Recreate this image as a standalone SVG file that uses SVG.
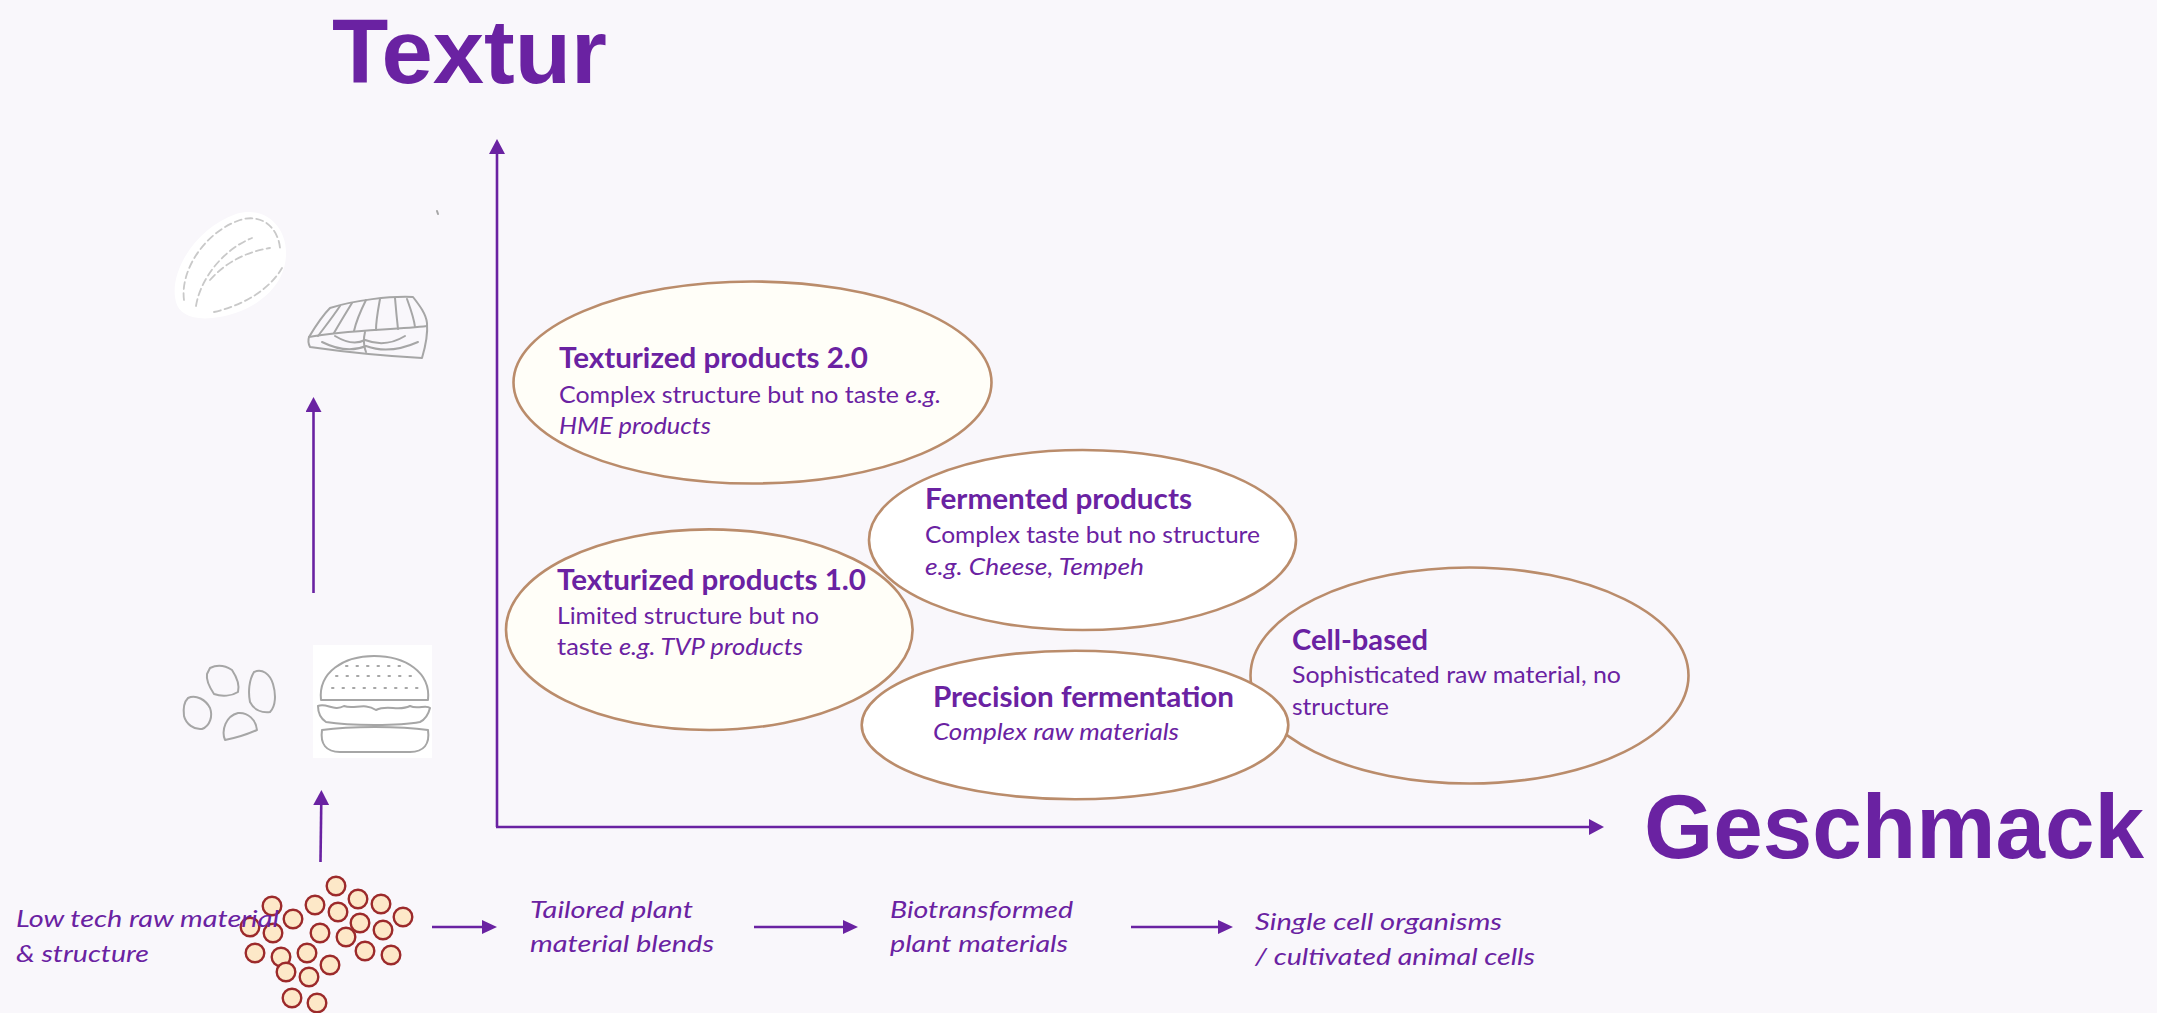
<svg xmlns="http://www.w3.org/2000/svg" width="2157" height="1013" viewBox="0 0 2157 1013">
  <style>
    .bg { fill: #F9F7FB; }
    .txt { font-family: Lato, "Open Sans", "Liberation Sans", sans-serif; fill: #6A22A2; }
    .axis-label { font-family: "Liberation Sans", Arial, sans-serif; font-weight: 700; font-size: 90px; }
    .title { font-weight: 700; font-size: 28px; }
    .body { font-size: 23px; }
    .flow { font-size: 24px; font-style: italic; }
    .it { font-style: italic; }
    .bubble { stroke: #BA8C6B; stroke-width: 2.6; }
    .cream { fill: #FFFEF8; }
    .white { fill: #FFFFFF; }
    .clear { fill: none; }
    .conn { stroke: #6A22A2; stroke-width: 2.6; fill: none; }
    .particle { fill: #FDE8C8; stroke: #9C2A2B; stroke-width: 2.4; }
    .sketch { fill: none; stroke: #A6A6A6; stroke-width: 2; stroke-linecap: round; stroke-linejoin: round; }
    .faint { fill: none; stroke: #C9C9C9; stroke-width: 1.8; stroke-linecap: round; stroke-dasharray: 7 4; }
  </style>
  <defs>
    <marker id="head" viewBox="0 0 15 16" markerUnits="userSpaceOnUse" markerWidth="15" markerHeight="16" refX="5" refY="8" orient="auto">
      <path d="M0,0 L15,8 L0,16 Z" fill="#6A22A2"/>
    </marker>
    <marker id="head-s" viewBox="0 0 15 14" markerUnits="userSpaceOnUse" markerWidth="15" markerHeight="14" refX="5" refY="7" orient="auto">
      <path d="M0,0 L15,7 L0,14 Z" fill="#6A22A2"/>
    </marker>
  </defs>

  <rect class="bg" x="0" y="0" width="2157" height="1013"/>

  <!-- axis titles -->
  <text id="label-textur" class="txt axis-label" x="332" y="83" textLength="275" lengthAdjust="spacingAndGlyphs">Textur</text>
  <text id="label-geschmack" class="txt axis-label" x="1644" y="858" textLength="500" lengthAdjust="spacingAndGlyphs">Geschmack</text>

  <!-- illustrations: whole cuts (top) and processed products (bottom) -->
  <g id="illustrations">
    <g id="chicken-breast">
      <path d="M176,302 C168,272 196,228 236,214 C266,205 286,228 286,252 C287,288 252,314 212,318 C192,320 179,314 176,302 Z" fill="#FFFFFF"/>
      <path class="faint" d="M184,300 C180,270 205,232 240,220 C262,213 278,228 280,248"/>
      <path class="faint" d="M196,306 C200,280 222,250 252,238"/>
      <path class="faint" d="M214,312 C240,306 268,292 282,268"/>
      <path class="faint" d="M210,280 C226,262 246,252 270,248"/>
    </g>
    <g id="salmon-steak">
      <path class="sketch" d="M330,308 C355,300 390,296 413,297 C420,306 426,314 427,323 C428,335 425,348 422,358 C385,356 345,352 310,347 C308,343 308,340 309,337 C315,327 322,316 330,308 Z"/>
      <path class="sketch" d="M309,337 C345,330 395,330 427,326"/>
      <path class="sketch" d="M340,306 C332,318 324,328 318,336"/>
      <path class="sketch" d="M352,303 C344,316 338,326 334,333"/>
      <path class="sketch" d="M366,300 C360,312 356,322 354,331"/>
      <path class="sketch" d="M380,299 C378,310 376,320 376,330"/>
      <path class="sketch" d="M395,298 C396,310 397,320 398,329"/>
      <path class="sketch" d="M407,299 C411,310 414,318 415,327"/>
      <path class="sketch" d="M365,332 C363,340 364,347 366,352"/>
      <path class="sketch" d="M335,336 C345,342 355,345 365,340 C378,345 392,344 405,336"/>
      <path class="sketch" d="M322,342 C338,350 352,352 366,346 C382,352 400,350 418,342"/>
      <path class="sketch" d="M437,211 L438,214"/>
    </g>
    <g id="nuggets">
      <path class="sketch" d="M210,668 C218,664 226,666 232,670 C236,676 240,684 238,692 C232,696 222,697 214,694 C210,688 206,680 207,674 Z"/>
      <path class="sketch" d="M254,672 C262,668 270,674 273,684 C276,694 276,706 270,712 C262,713 254,710 250,702 C248,692 249,680 254,672 Z"/>
      <path class="sketch" d="M188,698 C196,694 206,700 210,708 C213,716 210,726 202,729 C194,730 186,724 184,716 C183,708 184,702 188,698 Z"/>
      <path class="sketch" d="M225,740 C221,730 226,716 238,713 C248,712 256,720 257,730 C248,734 236,738 225,740 Z"/>
    </g>
    <g id="burger">
      <rect x="313" y="645" width="119" height="113" fill="#FFFFFF"/>
      <path class="sketch" d="M321,700 C318,672 344,656 374,656 C405,656 431,672 428,700 Z"/>
      <path class="sketch" stroke-dasharray="1.5 9" d="M336,676 L414,676 M332,688 L420,688 M346,666 L404,666"/>
      <path class="sketch" d="M318,706 C326,702 334,712 344,706 C354,710 364,702 376,710 C388,704 398,712 410,706 C418,710 426,704 430,708 C428,716 424,720 420,722 C400,726 350,726 326,722 C320,718 318,712 318,706 Z"/>
      <path class="sketch" d="M322,730 C350,726 400,726 428,730 C430,744 424,752 410,752 L340,752 C326,752 320,744 322,730 Z"/>
    </g>
  </g>

  <!-- raw material particles -->
  <g id="particles">
    <circle class="particle" cx="336" cy="886" r="9.3"/>
    <circle class="particle" cx="272" cy="906" r="9.3"/>
    <circle class="particle" cx="315" cy="905" r="9.3"/>
    <circle class="particle" cx="358" cy="899" r="9.3"/>
    <circle class="particle" cx="381" cy="904" r="9.3"/>
    <circle class="particle" cx="293" cy="919" r="9.3"/>
    <circle class="particle" cx="338" cy="912" r="9.3"/>
    <circle class="particle" cx="403" cy="917" r="9.3"/>
    <circle class="particle" cx="250" cy="927" r="9.3"/>
    <circle class="particle" cx="273" cy="933" r="9.3"/>
    <circle class="particle" cx="320" cy="933" r="9.3"/>
    <circle class="particle" cx="360" cy="923" r="9.3"/>
    <circle class="particle" cx="346" cy="937" r="9.3"/>
    <circle class="particle" cx="383" cy="930" r="9.3"/>
    <circle class="particle" cx="255" cy="953" r="9.3"/>
    <circle class="particle" cx="281" cy="957" r="9.3"/>
    <circle class="particle" cx="307" cy="953" r="9.3"/>
    <circle class="particle" cx="365" cy="951" r="9.3"/>
    <circle class="particle" cx="391" cy="955" r="9.3"/>
    <circle class="particle" cx="286" cy="972" r="9.3"/>
    <circle class="particle" cx="330" cy="965" r="9.3"/>
    <circle class="particle" cx="309" cy="977" r="9.3"/>
    <circle class="particle" cx="292" cy="998" r="9.3"/>
    <circle class="particle" cx="317" cy="1003" r="9.3"/>
  </g>

  <!-- connectors: chart axes and process arrows -->
  <g id="connectors">
    <path class="conn" d="M497,827 L497,149" marker-end="url(#head)"/>
    <path class="conn" d="M496,827 L1594,827" marker-end="url(#head)"/>
    <path class="conn" d="M313.5,593 L313.5,407" marker-end="url(#head)"/>
    <path class="conn" d="M320.5,862 L321.3,800" marker-end="url(#head)"/>
    <path class="conn" stroke-width="3" d="M432,927 L487,927" marker-end="url(#head-s)"/>
    <path class="conn" stroke-width="3" d="M754,927 L848,927" marker-end="url(#head-s)"/>
    <path class="conn" stroke-width="3" d="M1131,927 L1223,927" marker-end="url(#head-s)"/>
  </g>

  <!-- process stage labels -->
  <g id="stage-low-tech">
    <text class="txt flow" x="16" y="927" textLength="263" lengthAdjust="spacingAndGlyphs">Low tech raw material</text>
    <text class="txt flow" x="16" y="962" textLength="133" lengthAdjust="spacingAndGlyphs">&amp; structure</text>
  </g>
  <g id="stage-tailored">
    <text class="txt flow" x="530" y="918" textLength="163" lengthAdjust="spacingAndGlyphs">Tailored plant</text>
    <text class="txt flow" x="530" y="952" textLength="184" lengthAdjust="spacingAndGlyphs">material blends</text>
  </g>
  <g id="stage-biotransformed">
    <text class="txt flow" x="890" y="918" textLength="183" lengthAdjust="spacingAndGlyphs">Biotransformed</text>
    <text class="txt flow" x="890" y="952" textLength="178" lengthAdjust="spacingAndGlyphs">plant materials</text>
  </g>
  <g id="stage-single-cell">
    <text class="txt flow" x="1255" y="930" textLength="247" lengthAdjust="spacingAndGlyphs">Single cell organisms</text>
    <text class="txt flow" x="1255" y="965" textLength="280" lengthAdjust="spacingAndGlyphs">/ cultivated animal cells</text>
  </g>

  <!-- product categories -->
  <g id="node-texturized-2">
    <ellipse class="bubble cream" cx="752.5" cy="382.5" rx="239" ry="101"/>
    <text class="txt title" x="559" y="368" textLength="309" lengthAdjust="spacingAndGlyphs">Texturized products 2.0</text>
    <text class="txt body" x="559" y="403" textLength="382" lengthAdjust="spacingAndGlyphs">Complex structure but no taste <tspan class="it">e.g.</tspan></text>
    <text class="txt body it" x="559" y="434" textLength="152" lengthAdjust="spacingAndGlyphs">HME products</text>
  </g>

  <g id="node-fermented">
    <ellipse class="bubble white" cx="1082.5" cy="540" rx="213.5" ry="90"/>
    <text class="txt title" x="925" y="509" textLength="267" lengthAdjust="spacingAndGlyphs">Fermented products</text>
    <text class="txt body" x="925" y="542.5" textLength="335" lengthAdjust="spacingAndGlyphs">Complex taste but no structure</text>
    <text class="txt body it" x="925" y="574.5" textLength="219" lengthAdjust="spacingAndGlyphs">e.g. Cheese, Tempeh</text>
  </g>

  <g id="node-texturized-1">
    <ellipse class="bubble cream" cx="709.3" cy="629.7" rx="203.3" ry="100.3"/>
    <text class="txt title" x="557" y="590" textLength="309" lengthAdjust="spacingAndGlyphs">Texturized products 1.0</text>
    <text class="txt body" x="557" y="624" textLength="262" lengthAdjust="spacingAndGlyphs">Limited structure but no</text>
    <text class="txt body" x="557" y="655" textLength="246" lengthAdjust="spacingAndGlyphs">taste <tspan class="it">e.g. TVP products</tspan></text>
  </g>

  <g id="node-cell-based">
    <ellipse class="bubble clear" cx="1469.5" cy="675.5" rx="219" ry="108"/>
    <text class="txt title" x="1292" y="650" textLength="136" lengthAdjust="spacingAndGlyphs">Cell-based</text>
    <text class="txt body" x="1292" y="683" textLength="329" lengthAdjust="spacingAndGlyphs">Sophisticated raw material, no</text>
    <text class="txt body" x="1292" y="715" textLength="97" lengthAdjust="spacingAndGlyphs">structure</text>
  </g>

  <g id="node-precision">
    <ellipse class="bubble white" cx="1075" cy="725" rx="213.3" ry="74.3"/>
    <text class="txt title" x="933" y="707" textLength="301" lengthAdjust="spacingAndGlyphs">Precision fermentation</text>
    <text class="txt body it" x="933" y="739.5" textLength="246" lengthAdjust="spacingAndGlyphs">Complex raw materials</text>
  </g>
</svg>
